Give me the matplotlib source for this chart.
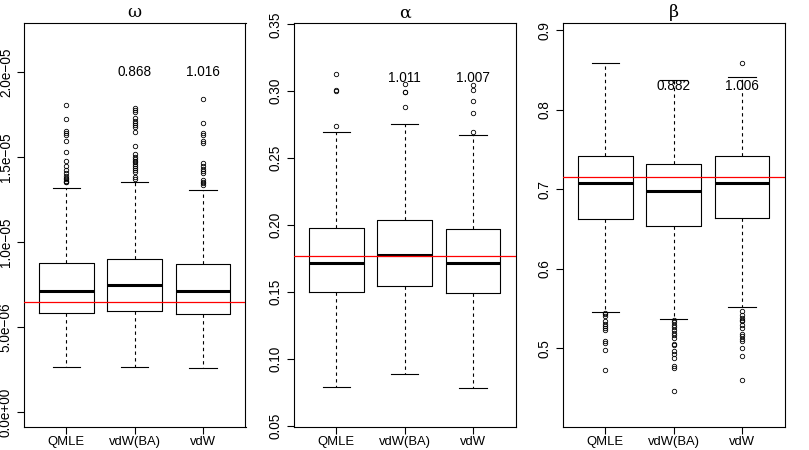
import matplotlib
matplotlib.use("Agg")
import matplotlib.pyplot as plt

plt.rcParams['font.family'] = ['Liberation Sans', 'DejaVu Sans']

methods = ["QMLE", "vdW(BA)", "vdW"]
titles = ["\u03c9", "\u03b1", "\u03b2"]

# omega panel (values in units of 1e-6, scaled below)
omega_q1 = [5.80, 5.94, 5.75]
omega_med = [7.14, 7.45, 7.10]
omega_q3 = [8.75, 9.00, 8.69]
omega_lo = [2.65, 2.67, 2.59]
omega_hi = [13.16, 13.55, 13.08]
omega_fl_qmle = [18.04, 17.24, 16.55, 16.43, 16.29, 15.96, 15.27, 14.76, 14.49,
                 14.24, 14.04, 13.90, 13.78, 13.69, 13.61, 13.55, 13.50]
omega_fl_ba = [17.88, 17.76, 17.63, 17.27, 17.14, 17.00, 16.88, 16.75, 16.47,
               15.65, 15.18, 15.02, 14.88, 14.78, 14.69, 14.59, 14.45, 14.33,
               14.22, 14.10, 13.84, 13.69]
omega_fl_vdw = [18.39, 16.98, 16.43, 16.29, 15.94, 15.84, 14.63, 14.49, 14.29,
                14.19, 14.08, 13.65, 13.55, 13.45, 13.35]
omega_true = 6.49
omega_ratio = ["0.868", "1.016"]
omega_ratio_y = 20.0

# alpha panel
alpha_q1 = [0.1498, 0.1547, 0.1493]
alpha_med = [0.1716, 0.1776, 0.1721]
alpha_q3 = [0.1980, 0.2040, 0.1968]
alpha_lo = [0.0789, 0.0891, 0.0786]
alpha_hi = [0.2699, 0.2756, 0.2674]
alpha_fl_qmle = [0.3132, 0.3010, 0.3004, 0.2739]
alpha_fl_ba = [0.3057, 0.2998, 0.2993, 0.2886]
alpha_fl_vdw = [0.3047, 0.3007, 0.2928, 0.2838, 0.2699]
alpha_true = 0.1769
alpha_ratio = ["1.011", "1.007"]
alpha_ratio_y = 0.31

# beta panel
beta_q1 = [0.6631, 0.6535, 0.6644]
beta_med = [0.7083, 0.6974, 0.7083]
beta_q3 = [0.7417, 0.7313, 0.7417]
beta_lo = [0.5460, 0.5364, 0.5514]
beta_hi = [0.8588, 0.8367, 0.8409]
beta_fl_qmle = [0.5443, 0.5427, 0.5401, 0.5339, 0.5309, 0.5276, 0.5260, 0.5234,
                0.5088, 0.5067, 0.4975, 0.4728]
beta_fl_ba = [0.5351, 0.5326, 0.5297, 0.5268, 0.5226, 0.5192, 0.5171, 0.5130,
              0.5054, 0.5038, 0.4962, 0.4933, 0.4879, 0.4774, 0.4753, 0.4460]
beta_fl_vdw = [0.8588, 0.5464, 0.5422, 0.5381, 0.5360, 0.5339, 0.5297, 0.5255,
               0.5180, 0.5151, 0.5117, 0.5088, 0.5004, 0.4908, 0.4607]
beta_true = 0.7158
beta_ratio = ["0.882", "1.006"]
beta_ratio_y = 0.83

omega_scale = 1e-6

panels = [
    dict(q1=[v * omega_scale for v in omega_q1], med=[v * omega_scale for v in omega_med],
         q3=[v * omega_scale for v in omega_q3], lo=[v * omega_scale for v in omega_lo],
         hi=[v * omega_scale for v in omega_hi],
         fl=[[v * omega_scale for v in f] for f in (omega_fl_qmle, omega_fl_ba, omega_fl_vdw)],
         true=omega_true * omega_scale, ratio=omega_ratio, ratio_y=omega_ratio_y * omega_scale,
         ylim=(-0.88e-6, 2.288e-5),
         yticks=[0, 5e-6, 1e-5, 1.5e-5, 2e-5],
         yticklabels=["0.0e+00", "5.0e\u221206", "1.0e\u221205", "1.5e\u221205", "2.0e\u221205"]),
    dict(q1=alpha_q1, med=alpha_med, q3=alpha_q3, lo=alpha_lo, hi=alpha_hi,
         fl=[alpha_fl_qmle, alpha_fl_ba, alpha_fl_vdw],
         true=alpha_true, ratio=alpha_ratio, ratio_y=alpha_ratio_y,
         ylim=(0.0493, 0.351),
         yticks=[0.05, 0.10, 0.15, 0.20, 0.25, 0.30, 0.35],
         yticklabels=["0.05", "0.10", "0.15", "0.20", "0.25", "0.30", "0.35"]),
    dict(q1=beta_q1, med=beta_med, q3=beta_q3, lo=beta_lo, hi=beta_hi,
         fl=[beta_fl_qmle, beta_fl_ba, beta_fl_vdw],
         true=beta_true, ratio=beta_ratio, ratio_y=beta_ratio_y,
         ylim=(0.401, 0.909),
         yticks=[0.5, 0.6, 0.7, 0.8, 0.9],
         yticklabels=["0.5", "0.6", "0.7", "0.8", "0.9"]),
]

fig = plt.figure(figsize=(8.09, 4.5), dpi=100)
lefts = [24 / 809, 294 / 809, 563 / 809]
width = 221.5 / 809
bottom = 1 - 427 / 450
height = (427 - 23) / 450

fs = 9.8
for i, p in enumerate(panels):
    ax = fig.add_axes([lefts[i], bottom, width, height])
    stats = []
    for j in range(3):
        stats.append(dict(med=p['med'][j], q1=p['q1'][j], q3=p['q3'][j],
                          whislo=p['lo'][j], whishi=p['hi'][j], fliers=p['fl'][j],
                          label=methods[j]))
    ax.bxp(stats, positions=[1, 2, 3], widths=0.8, showfliers=True,
           boxprops=dict(color='black', linewidth=0.8),
           medianprops=dict(color='black', linewidth=2.2, solid_capstyle='butt'),
           whiskerprops=dict(color='black', linewidth=0.8, linestyle=(0, (3, 3))),
           capprops=dict(color='black', linewidth=0.8),
           flierprops=dict(marker='o', markersize=3.2, markerfacecolor='none',
                           markeredgecolor='black', markeredgewidth=0.6))
    ax.axhline(p['true'], color='red', linewidth=0.9, zorder=3)
    for j, txt in enumerate(p['ratio']):
        ax.text(j + 2, p['ratio_y'], txt, ha='center', va='center', fontsize=fs, zorder=4)
    ax.set_xlim(0.38, 3.62)
    ax.set_ylim(*p['ylim'])
    ax.set_yticks(p['yticks'])
    ax.set_yticklabels(p['yticklabels'], rotation=90, va='center', fontsize=fs)
    ax.set_xticks([1, 2, 3])
    ax.set_xticklabels(methods, fontsize=9.4)
    ax.tick_params(direction='out', length=5, width=0.8)
    ax.tick_params(axis='x', pad=1.2)
    ax.tick_params(axis='y', pad=3)
    for s in ax.spines.values():
        s.set_linewidth(0.8)
        s.set_color('black')
    ax.set_title(titles[i], fontsize=12.5, family=['DejaVu Serif'], pad=4)

fig.savefig("out.png", dpi=100)
